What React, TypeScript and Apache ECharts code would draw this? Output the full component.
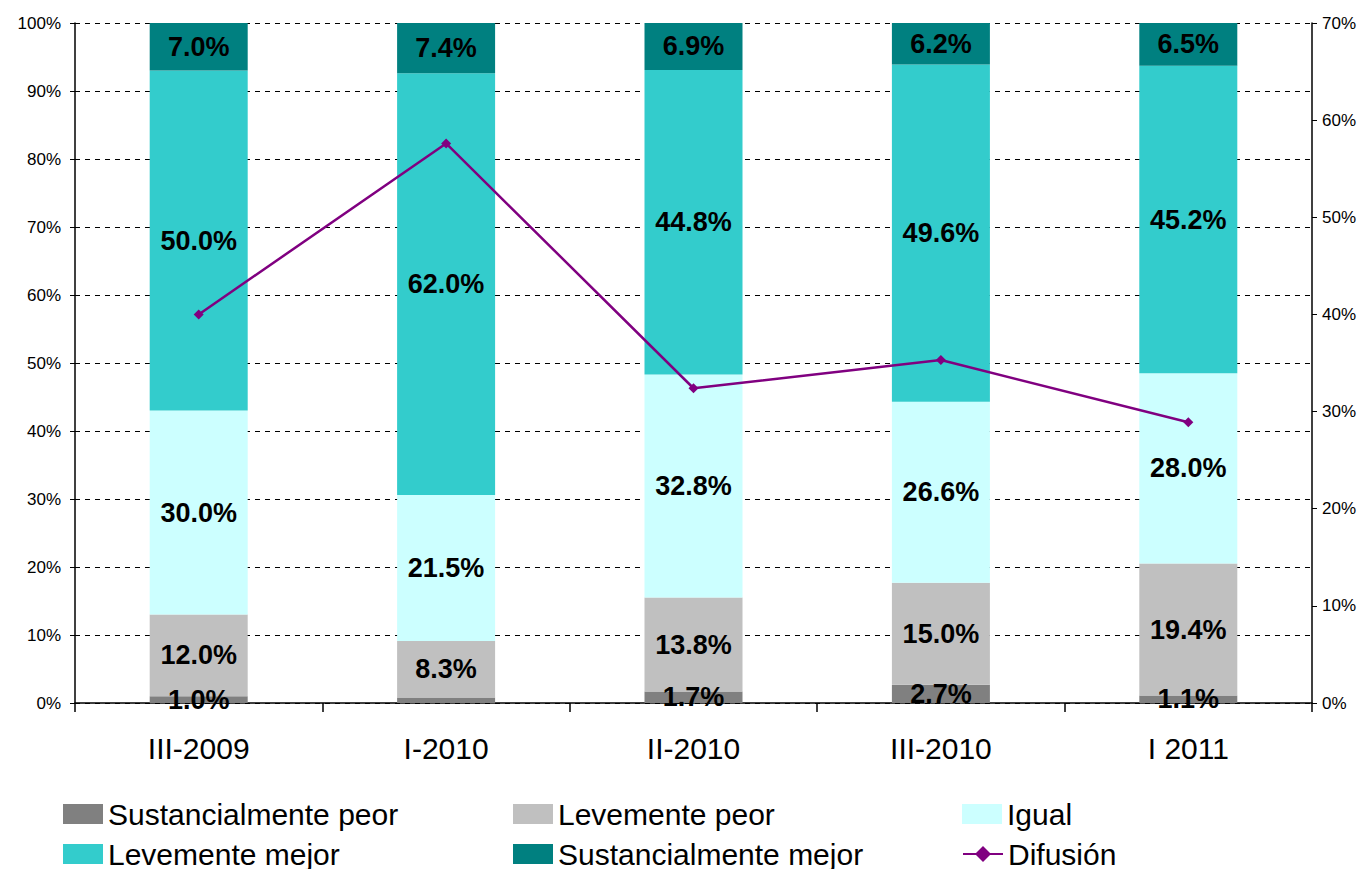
import React, { useEffect, useRef } from "react";
import * as echarts from "echarts";

const categories = ["III-2009", "I-2010", "II-2010", "III-2010", "I 2011"];
const sustPeor = [1.0, 0.8, 1.7, 2.7, 1.1];
const levePeor = [12.0, 8.3, 13.8, 15.0, 19.4];
const igual = [30.0, 21.5, 32.8, 26.6, 28.0];
const leveMejor = [50.0, 62.0, 44.8, 49.6, 45.2];
const sustMejor = [7.0, 7.4, 6.9, 6.2, 6.5];
const difusion = [40.0, 57.6, 32.4, 35.3, 28.9];
const hiddenLabels: Record<string, number[]> = { "Sustancialmente peor": [1] };
const legendRows = [
  ["Sustancialmente peor", "Levemente peor", "Igual"],
  ["Levemente mejor", "Sustancialmente mejor", "Difusión"],
];

const FONT = "Liberation Sans, Arial, sans-serif";

export default function App() {
  const ref = useRef<HTMLDivElement>(null);
  useEffect(() => {
    if (!ref.current) return;
    const chart = echarts.init(ref.current, null, { renderer: "svg" });
    const barSeries = [
      { name: "Sustancialmente peor", data: sustPeor, color: "#808080" },
      { name: "Levemente peor", data: levePeor, color: "#C0C0C0" },
      { name: "Igual", data: igual, color: "#CCFFFF" },
      { name: "Levemente mejor", data: leveMejor, color: "#33CCCC" },
      { name: "Sustancialmente mejor", data: sustMejor, color: "#008080" },
    ].map((s) => ({
      name: s.name,
      type: "bar",
      stack: "total",
      barWidth: 98,
      itemStyle: { color: s.color },
      label: {
        show: true,
        position: "inside",
        fontFamily: FONT,
        fontWeight: "bold",
        fontSize: 27,
        color: "#000",
        formatter: (p: any) => p.value.toFixed(1) + "%",
      },
      data: s.data.map((v, i) =>
        (hiddenLabels[s.name] || []).includes(i) ? { value: v, label: { show: false } } : v
      ),
    }));
    const colX = [63, 513, 962];
    const rowY = [799, 839];
    const legends: any[] = [];
    legendRows.forEach((row, r) =>
      row.forEach((name, c) =>
        legends.push({
          orient: "horizontal",
          left: colX[c],
          top: rowY[r],
          itemWidth: 40,
          itemHeight: 20,
          itemGap: 8,
          padding: 0,
          textStyle: { fontFamily: FONT, fontSize: 30, color: "#000", lineHeight: 29 },
          data: [name === "Difusión" ? name : { name, icon: "rect" }],
        })
      )
    );
    chart.setOption({
      animation: false,
      textStyle: { fontFamily: FONT },
      grid: { left: 75, right: 53, top: 23, bottom: 166 },
      legend: legends,
      xAxis: {
        type: "category",
        data: categories,
        axisLine: { lineStyle: { color: "#000", width: 1.5 } },
        axisTick: { show: true, length: 9, lineStyle: { color: "#000", width: 1.5 } },
        axisLabel: { fontFamily: FONT, fontSize: 30, color: "#000", margin: 30 },
      },
      yAxis: [
        {
          type: "value",
          min: 0,
          max: 100,
          interval: 10,
          axisLine: { show: true, lineStyle: { color: "#000", width: 1.5 } },
          axisTick: { show: true, length: 5, lineStyle: { color: "#000" } },
          axisLabel: { fontFamily: FONT, fontSize: 17, color: "#000", formatter: "{value}%", margin: 14 },
          splitLine: { show: true, lineStyle: { color: "#000", type: [5, 5], width: 1 } },
        },
        {
          type: "value",
          min: 0,
          max: 70,
          interval: 10,
          position: "right",
          axisLine: { show: true, lineStyle: { color: "#000", width: 1.5 } },
          axisTick: { show: true, length: 5, lineStyle: { color: "#000" } },
          axisLabel: { fontFamily: FONT, fontSize: 17, color: "#000", formatter: "{value}%", margin: 10 },
          splitLine: { show: false },
        },
      ],
      series: [
        ...barSeries,
        {
          name: "Difusión",
          type: "line",
          yAxisIndex: 1,
          data: difusion,
          symbol: "diamond",
          symbolSize: 10,
          itemStyle: { color: "#800080" },
          lineStyle: { color: "#800080", width: 2.5 },
          z: 5,
        },
      ],
    });
    return () => chart.dispose();
  }, []);
  return (
    <div
      ref={ref}
      style={{ position: "absolute", left: 0, top: 0, width: 1365, height: 869, overflow: "hidden" }}
    />
  );
}
